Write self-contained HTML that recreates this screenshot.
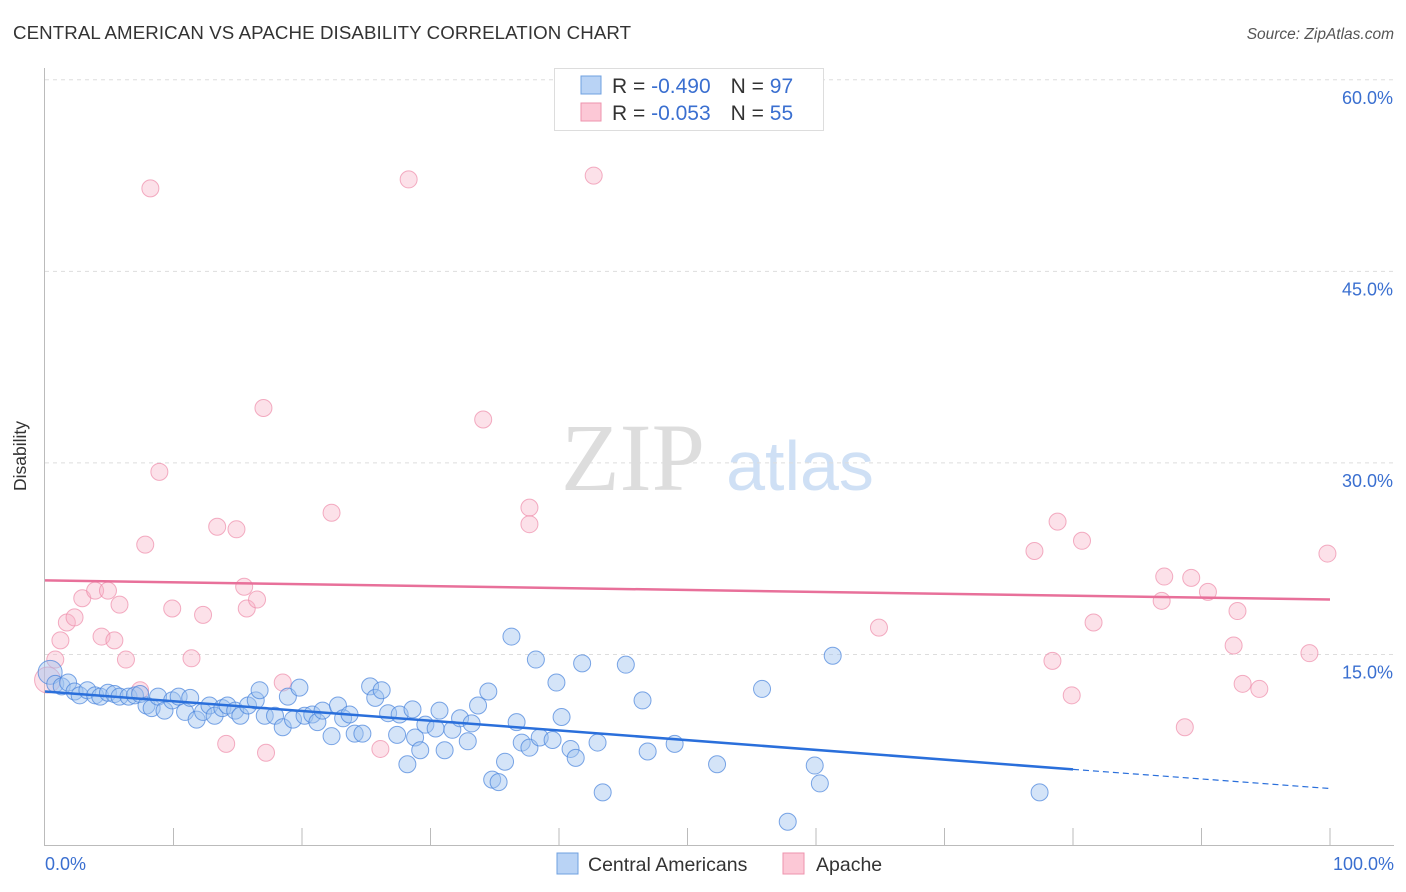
<!DOCTYPE html>
<html><head><meta charset="utf-8"><style>
body{margin:0;background:#fff;font-family:"Liberation Sans",sans-serif}
#wrap{position:relative;width:1406px;height:892px;overflow:hidden}
</style></head><body><div id="wrap">
<svg id="svg" width="1406" height="892" xmlns="http://www.w3.org/2000/svg">
<text x="13" y="39" font-size="18.7" fill="#333" letter-spacing="0.1">CENTRAL AMERICAN VS APACHE DISABILITY CORRELATION CHART</text>
<text x="1394" y="39" font-size="15.5" fill="#555" font-style="italic" text-anchor="end">Source: ZipAtlas.com</text>
<text x="26" y="456" font-size="17.5" fill="#333" text-anchor="middle" transform="rotate(-90 26 456)">Disability</text>
<text x="633" y="490" font-size="96" fill="#ddd" font-family="Liberation Serif,serif" text-anchor="middle">ZIP</text>
<text x="800" y="490" font-size="70" fill="#cfe0f5" text-anchor="middle">atlas</text>
<g id="grid"></g><g id="pts"></g><g id="lines"></g>
<g>
<rect x="554.5" y="68.5" width="269" height="62" fill="#fff" stroke="#ddd"/>
<rect x="581" y="76" width="20" height="18" fill="#b9d3f5" stroke="#6fa0e0"/>
<rect x="581" y="103" width="20" height="18" fill="#fcc8d6" stroke="#ee93ad"/>
<text x="612" y="93" font-size="21" fill="#333">R = <tspan fill="#3a6fd0">-0.490</tspan><tspan dx="20">N = </tspan><tspan fill="#3a6fd0">97</tspan></text>
<text x="612" y="120" font-size="21" fill="#333">R = <tspan fill="#3a6fd0">-0.053</tspan><tspan dx="20">N = </tspan><tspan fill="#3a6fd0">55</tspan></text>
</g>
<g>
<rect x="557" y="853" width="21" height="21" fill="#b9d3f5" stroke="#6fa0e0"/>
<text x="588" y="871" font-size="19.5" fill="#333">Central Americans</text>
<rect x="783" y="853" width="21" height="21" fill="#fcc8d6" stroke="#ee93ad"/>
<text x="816" y="871" font-size="19.5" fill="#333">Apache</text>
</g>
<text x="45" y="870" font-size="18" fill="#3a6fd0">0.0%</text>
<text x="1394" y="870" font-size="18" fill="#3a6fd0" text-anchor="end">100.0%</text>
</svg></div>
<script>
const yTicks=[15,30,45,60];
const blueX=[0.4,0.8,1.3,1.8,2.3,2.7,3.3,3.9,4.3,4.9,5.4,5.8,6.5,7.0,7.4,7.9,8.3,8.8,9.3,9.9,10.4,10.9,11.3,11.8,12.3,12.8,13.2,13.8,14.2,14.8,15.2,15.8,16.4,16.7,17.1,17.9,18.5,18.9,19.3,19.8,20.2,20.8,21.2,21.6,22.3,22.8,23.2,23.7,24.1,24.7,25.3,25.7,26.2,26.7,27.4,27.6,28.2,28.6,28.8,29.2,29.6,30.4,30.7,31.1,31.7,32.3,32.9,33.2,33.7,34.5,34.8,35.3,35.8,36.3,36.7,37.1,37.7,38.2,38.5,39.5,39.8,40.2,40.9,41.3,41.8,43.0,43.4,45.2,46.5,46.9,49.0,52.3,55.8,57.8,59.9,60.3,61.3,77.4];
const blueY=[13.6,12.7,12.5,12.8,12.1,11.8,12.2,11.8,11.7,12.0,11.9,11.7,11.7,11.8,11.9,11.0,10.8,11.7,10.6,11.4,11.7,10.5,11.6,9.9,10.5,11.0,10.2,10.8,11.0,10.6,10.2,11.0,11.4,12.2,10.2,10.2,9.3,11.7,9.9,12.4,10.2,10.3,9.7,10.6,8.6,11.0,10.0,10.3,8.8,8.8,12.5,11.6,12.2,10.4,8.7,10.3,6.4,10.7,8.5,7.5,9.5,9.2,10.6,7.5,9.1,10.0,8.2,9.6,11.0,12.1,5.2,5.0,6.6,16.4,9.7,8.1,7.7,14.6,8.5,8.3,12.8,10.1,7.6,6.9,14.3,8.1,4.2,14.2,11.4,7.4,8.0,6.4,12.3,1.9,6.3,4.9,14.9,4.2];
const pinkX=[0.2,0.8,1.2,1.7,2.3,2.9,3.9,4.9,4.4,5.4,5.8,6.3,7.4,7.8,8.2,8.9,9.9,11.4,12.3,13.4,14.1,14.9,15.5,15.7,16.5,17.0,17.2,18.5,22.3,26.1,28.3,34.1,37.7,37.7,42.7,64.9,77.0,78.4,78.8,79.9,80.7,81.6,86.9,87.1,88.7,89.2,90.5,92.5,92.8,93.2,94.5,98.4,99.8];
const pinkY=[13.0,14.6,16.1,17.5,17.9,19.4,20.0,20.0,16.4,16.1,18.9,14.6,12.2,23.6,51.5,29.3,18.6,14.7,18.1,25.0,8.0,24.8,20.3,18.6,19.3,34.3,7.3,12.8,26.1,7.6,52.2,33.4,26.5,25.2,52.5,17.1,23.1,14.5,25.4,11.8,23.9,17.5,19.2,21.1,9.3,21.0,19.9,15.7,18.4,12.7,12.3,15.1,22.9];
const blueTrend=[12.1,6.0,4.5]; const blueTrendX=[0,80,100];
const pinkTrend=[20.8,19.3];
const NS='http://www.w3.org/2000/svg';
const X=v=>45+v*12.85, Y=v=>846-v*12.77;
function mk(t,a,p){const e=document.createElementNS(NS,t);for(const k in a)e.setAttribute(k,a[k]);p.appendChild(e);return e;}
const grid=document.getElementById('grid'),pts=document.getElementById('pts'),lines=document.getElementById('lines');
mk('line',{x1:44.5,y1:68,x2:44.5,y2:846,stroke:'#bbb'},grid);
mk('line',{x1:44,y1:845.5,x2:1394,y2:845.5,stroke:'#bbb'},grid);
for(let i=1;i<=10;i++){const l=mk('line',{x1:X(i*10),y1:828,x2:X(i*10),y2:846,stroke:'#bbb'},grid);

}
yTicks.forEach(t=>{const l=mk('line',{x1:45,y1:Y(t),x2:1394,y2:Y(t),stroke:'#ddd','stroke-dasharray':'4,4'},grid);


const tx=mk('text',{x:1393,y:Y(t)+24,'font-size':18,fill:'#3a6fd0','text-anchor':'end'},grid);tx.textContent=t.toFixed(1)+'%';

});
pinkX.forEach((x,i)=>{const c=mk('circle',{cx:X(x),cy:Y(pinkY[i]),r:i==0?13:8.5,fill:'rgba(248,180,200,0.4)',stroke:'rgba(238,140,170,0.7)'},pts);

});
blueX.forEach((x,i)=>{const c=mk('circle',{cx:X(x),cy:Y(blueY[i]),r:i==0?12:8.5,fill:'rgba(160,195,240,0.45)',stroke:'rgba(70,130,220,0.7)'},pts);

});
const bl=mk('line',{x1:X(blueTrendX[0]),y1:Y(blueTrend[0]),x2:X(blueTrendX[1]),y2:Y(blueTrend[1]),stroke:'#2a6fdb','stroke-width':2.5},lines);


const bd=mk('line',{x1:X(blueTrendX[1]),y1:Y(blueTrend[1]),x2:X(blueTrendX[2]),y2:Y(blueTrend[2]),stroke:'#2a6fdb','stroke-width':1.2,'stroke-dasharray':'6,4'},lines);


const pl=mk('line',{x1:X(0),y1:Y(pinkTrend[0]),x2:X(100),y2:Y(pinkTrend[1]),stroke:'#e8709a','stroke-width':2.5},lines);


</script></body></html>
